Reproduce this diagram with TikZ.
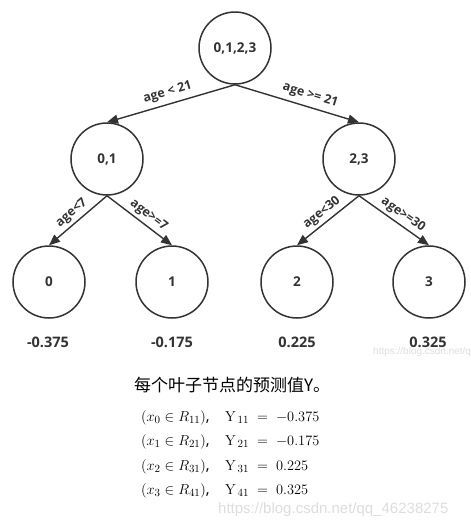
\documentclass[tikz,border=0pt]{standalone}
\usepackage[no-math]{fontspec}
\setmainfont{Open Sans}
\newfontfamily\cjkfont{Noto Sans CJK SC}
\newfontfamily\wmfont{Liberation Sans}
\usetikzlibrary{arrows.meta}
\definecolor{ink}{HTML}{333333}
\definecolor{wm}{HTML}{DDDDDD}
\begin{document}
\begin{tikzpicture}[x=1pt,y=-1pt,
  treenode/.style={circle,draw=ink,line width=1.5pt,minimum size=72pt,inner sep=0pt,font=\bfseries\fontsize{13.5}{15}\selectfont,text=ink},
  edge/.style={draw=ink,line width=1.4pt,-{Triangle[length=11pt,width=9pt]}},
  elabel/.style={font=\bfseries\fontsize{12.5}{14}\selectfont,text=ink,inner sep=2pt},
  val/.style={font=\bfseries\fontsize{14.5}{16}\selectfont,text=ink},
  fml/.style={anchor=west,inner sep=0pt,font=\fontsize{15.5}{17}\selectfont},
  wmark/.style={text=wm,inner sep=0pt,anchor=west}]
\useasboundingbox (0,0) rectangle (471,528);
\node[treenode] (r) at (235,48) {0,1,2,3};
\node[treenode] (a) at (107,159) {0,1};
\node[treenode] (b) at (359,159) {2,3};
\node[treenode] (l0) at (49,282) {0};
\node[treenode] (l1) at (172,282) {1};
\node[treenode] (l2) at (297,282) {2};
\node[treenode] (l3) at (429,282) {3};
\draw[edge] (r.south) -- (a.north) node[elabel,pos=0.5,above=3pt,sloped] {age < 21};
\draw[edge] (r.south) -- (b.north) node[elabel,pos=0.58,above=3pt,sloped] {age >= 21};
\draw[edge] (a.south) -- (l0.north) node[elabel,pos=0.5,above=1pt,sloped] {age<7};
\draw[edge] (a.south) -- (l1.north) node[elabel,pos=0.55,above=1pt,sloped] {age>=7};
\draw[edge] (b.south) -- (l2.north) node[elabel,pos=0.5,above=1pt,sloped] {age<30};
\draw[edge] (b.south) -- (l3.north) node[elabel,pos=0.55,above=1pt,sloped] {age>=30};
\node[val] (v0) at (48,342) {-0.375};
\node[val] (v1) at (172,342) {-0.175};
\node[val] (v2) at (297,342) {0.225};
\node[val] (v3) at (428,342) {0.325};
\begin{scope}
\clip (0,0) rectangle (471,528);
\node[wmark,font=\wmfont\fontsize{10}{12}\selectfont] (w1) at (373,352) {https://blog.csdn.net/qq\_46238275};
\end{scope}
\node[font=\cjkfont\fontsize{17}{19}\selectfont,anchor=west,inner sep=0pt] (t) at (134,385) {每个叶子节点的预测值Y。};
\node[fml] (f1) at (141,418) {$\bigl(x_0\in R_{11}\bigr)$,\quad $\mathrm{Y}_{\,11}\;=\;-0.375$};
\node[fml] (f2) at (141,442) {$\bigl(x_1\in R_{21}\bigr)$,\quad $\mathrm{Y}_{\,21}\;=\;-0.175$};
\node[fml] (f3) at (141,467) {$\bigl(x_2\in R_{31}\bigr)$,\quad $\mathrm{Y}_{\,31}\;=\;0.225$};
\node[fml] (f4) at (141,491) {$\bigl(x_3\in R_{41}\bigr)$,\quad $\mathrm{Y}_{\,41}\;=\;0.325$};
\node[wmark,font=\wmfont\fontsize{15}{17}\selectfont] (w2) at (218,510) {https://blog.csdn.net/qq\_46238275};
\end{tikzpicture}
\end{document}
